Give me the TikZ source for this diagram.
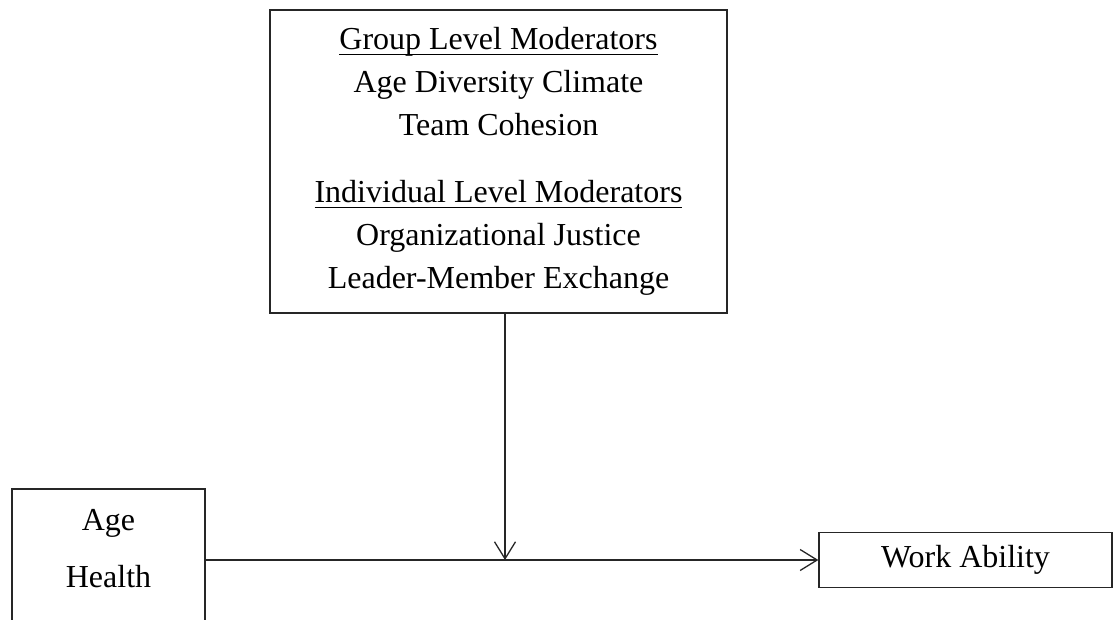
\documentclass[tikz,border=0pt]{standalone}
\usepackage{fontspec}
\setmainfont{Liberation Serif}
\usetikzlibrary{arrows.meta}

% underlined heading inside the moderator box
\newcommand{\modhead}[1]{\setbox0\hbox{#1}\rlap{\rule[-5.5pt]{\wd0}{1.2pt}}\box0}

\begin{document}
\begin{tikzpicture}[
            x = 1pt, y = -1pt, % pixel-like units, y runs downwards
            > = {Straight Barb[length=17pt, width=21pt]}, % open arrow head
            line width = 1.3pt, % line style
            font = \fontsize{32}{43}\selectfont
        ]

        \tikzstyle{block}=[
            draw = black!85,
            fill = white,
            align = center,
            inner sep = 0pt
        ]

        \useasboundingbox (0,0) rectangle (1113,619);

        \node[block, minimum width = 457pt, minimum height = 303pt] (mods) at (498.5,161.5)
            {\modhead{Group Level Moderators}\\
             Age Diversity Climate\\
             Team Cohesion\\[24pt]
             \modhead{Individual Level Moderators}\\
             Organizational Justice\\
             Leader-Member Exchange};

        \node[block, minimum width = 193pt, minimum height = 142pt] (inputs) at (108.5,560) {};
        \node[anchor = base] (age) at (108.5,530) {Age};
        \node[anchor = base] (health) at (108.5,587) {Health};

        \node[block, minimum width = 293pt, minimum height = 55pt] (ability) at (965.5,560) {Work Ability};

        \coordinate (join) at (505,560);

        \draw[->, black!85] (inputs.east) -- (ability.west);
        \draw[->, black!85] (mods.south -| join) -- (join);

  \end{tikzpicture}
\end{document}
